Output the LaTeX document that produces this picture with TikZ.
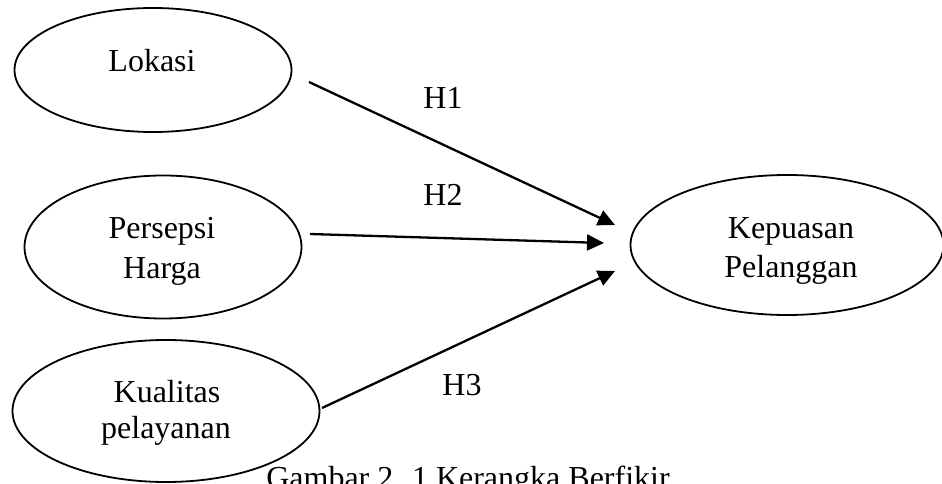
\documentclass[tikz,border=0pt]{standalone}
\usepackage{fontspec}
\setmainfont{Liberation Serif}
\usetikzlibrary{shapes.geometric,arrows.meta}
\begin{document}
\begin{tikzpicture}[x=1pt,y=-1pt,
  var/.style={ellipse, draw, line width=1.8pt, inner sep=0pt},
  txt/.style={font=\fontsize{32}{39}\selectfont, inner sep=0pt, anchor=base},
  conn/.style={line width=2.3pt, -{Triangle[length=17pt,width=16pt]}},
  lbl/.style={font=\fontsize{32}{39}\selectfont, inner sep=0pt}]
\useasboundingbox (0,0) rectangle (942,484);
\clip (0,0) rectangle (942,484);
\node[var, minimum width=277pt, minimum height=124pt] (lok) at (153,70) {};
\node[var, minimum width=277pt, minimum height=143pt] (har) at (163,247) {};
\node[var, minimum width=307pt, minimum height=142pt] (kua) at (166,411) {};
\node[var, minimum width=313pt, minimum height=140pt] (kep) at (787,245) {};
\node[txt] (tlok) at (152,72) {Lokasi};
\node[txt] (thar1) at (162,238) {Persepsi};
\node[txt] (thar2) at (162,278) {Harga};
\node[txt] (tkua1) at (167,402) {Kualitas};
\node[txt] (tkua2) at (166,438) {pelayanan};
\node[txt] (tkep1) at (791,238) {Kepuasan};
\node[txt] (tkep2) at (791,277) {Pelanggan};
\coordinate (s1) at (309,82);
\coordinate (e1) at (615,225);
\coordinate (s2) at (310,234);
\coordinate (e2) at (604,243);
\coordinate (s3) at (322,408);
\coordinate (e3) at (615,271);
\draw[conn] (s1) -- (e1);
\draw[conn] (s2) -- (e2);
\draw[conn] (s3) -- (e3);
\node[lbl] (h1) at (443,98) {H1};
\node[lbl] (h2) at (443,195) {H2};
\node[lbl] (h3) at (462,385) {H3};
\node[txt] (cap) at (468,488) {Gambar 2. 1 Kerangka Berfikir};
\end{tikzpicture}
\end{document}
